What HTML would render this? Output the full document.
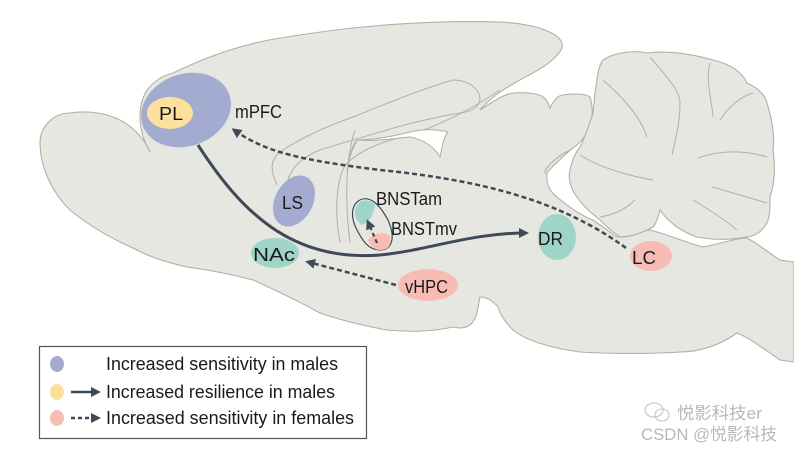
<!DOCTYPE html>
<html><head><meta charset="utf-8"><style>
body{margin:0;background:#fff;width:794px;height:450px;overflow:hidden}
svg{display:block}
text{font-family:"Liberation Sans","Noto Sans CJK SC",sans-serif;fill:#1a1a1a}
</style></head><body>
<svg width="794" height="450" viewBox="0 0 794 450" xmlns="http://www.w3.org/2000/svg">
<defs>
<marker id="ah" markerWidth="10" markerHeight="10" refX="7" refY="5" orient="auto" markerUnits="userSpaceOnUse"><path d="M0,0 L10,5 L0,10 z" fill="#3e4a55"/></marker>
</defs>
<g fill="#e7e7e2" stroke="#b0b0a6" stroke-width="1.1">
<!-- forebrain + brainstem -->
<path d="M150,152 C140,135 135,110 147,90 C155,80 165,75 173,73 C210,55 250,42 287,37 C360,25 430,20 500,22 C540,24 565,35 562,48 C555,62 535,72 520,80 C505,88 490,98 480,110 C495,100 505,94 513,93 C528,92 540,94 543,97 C548,100 549,106 550,108 C554,100 558,95 563,95 C575,93 586,94 590,97 C594,110 592,120 590,127 C585,138 578,145 570,150 C560,160 550,168 547,173 C546,185 550,192 557,197 C570,208 582,216 593,220 C605,228 612,234 617,237 C630,234 640,230 650,230 C670,235 690,244 703,247 C720,244 735,238 747,238 C760,245 772,255 780,260 L794,262 L794,362 L780,360 C765,350 750,338 737,333 C720,345 700,352 680,352 C650,354 610,354 580,352 C550,348 525,340 513,330 C505,322 500,314 498,307 C492,300 486,297 480,297 C478,305 478,318 470,325 C462,330 455,327 453,327 C430,332 410,332 387,330 C365,326 340,320 320,313 C300,302 275,290 253,280 C230,274 210,270 187,267 C165,262 150,257 137,250 C110,238 88,225 70,210 C50,190 40,165 40,143 C40,125 55,113 70,113 C90,110 108,114 120,120 C135,128 145,140 150,152 Z"/>
<!-- cerebellum -->
<path d="M603,60 C615,52 635,50 647,53 C670,50 695,55 713,60 C730,64 742,72 747,83 C758,88 765,95 767,103 C772,120 775,135 773,150 C776,170 774,185 770,197 C770,208 770,216 767,223 C762,232 755,236 747,237 C730,240 712,240 697,237 C682,232 668,222 660,210 C658,218 656,224 653,227 C642,233 630,237 620,237 C612,232 606,226 600,220 C590,212 582,205 577,197 C570,188 568,178 570,170 C572,160 576,152 580,147 C586,135 590,122 593,113 C594,102 595,90 597,80 C598,70 600,64 603,60 Z"/>
</g>
<g fill="none" stroke="#b0b0a6" stroke-width="1">
<path d="M650,57 C665,75 680,90 680,103 C680,125 675,140 672,155"/>
<path d="M603,80 C620,95 640,115 647,137"/>
<path d="M580,155 C600,168 630,176 653,180"/>
<path d="M710,63 C705,80 712,100 713,117"/>
<path d="M720,120 C730,105 742,96 753,93"/>
<path d="M698,158 C720,150 745,150 767,157"/>
<path d="M712,187 C730,192 750,198 767,203"/>
<path d="M693,200 C710,210 725,220 737,230"/>
<path d="M635,200 C625,210 612,215 600,217"/>
<!-- cortex interior -->
<path d="M277,185 C270,170 270,160 280,152 C300,138 330,125 353,117 C390,102 425,88 453,80 C470,80 480,90 480,100 C478,108 470,112 460,113 C430,118 400,126 387,130 C360,138 335,145 320,150 C300,158 290,170 287,183"/>
<path d="M500,90 C470,110 440,125 410,135 C380,142 360,150 345,165 C335,185 335,215 340,243"/>
<path d="M355,130 C345,160 345,205 350,243"/>
<path d="M570,150 C550,160 540,175 547,173"/>
</g>
<path d="M347,170 C350,155 352,145 357,140 C375,142 395,138 410,137 C425,140 435,148 440,157 C442,148 443,138 448,132 C440,130 425,128 410,132 C390,137 370,140 357,140 C352,150 348,160 347,170 Z" fill="#fff" stroke="#b0b0a6" stroke-width="1"/>
<!-- regions -->
<ellipse cx="186" cy="110" rx="46" ry="36" transform="rotate(-20 186 110)" fill="#a3acd0"/>
<ellipse cx="170" cy="113" rx="23" ry="16" fill="#fde09b"/>
<text x="159" y="120" font-size="18" textLength="24" lengthAdjust="spacingAndGlyphs">PL</text>
<text x="235" y="118" font-size="18" textLength="47" lengthAdjust="spacingAndGlyphs">mPFC</text>
<ellipse cx="294" cy="201" rx="19" ry="27" transform="rotate(28 294 201)" fill="#a3acd0"/>
<text x="282" y="209" font-size="18" textLength="21" lengthAdjust="spacingAndGlyphs">LS</text>
<path d="M360,200 C370,195 380,205 388,220 C396,238 392,250 380,250 C368,250 362,240 356,228 C350,215 352,204 360,200 Z" fill="#e7e7e2" stroke="#3e4a55" stroke-width="1.2"/>
<path d="M357,205 C362,198 372,200 375,205 C373,215 370,222 362,225 C355,220 353,212 357,205 Z" fill="#9fd4c8"/>
<path d="M368,240 C372,233 385,231 390,236 C392,246 388,250 380,250 C374,250 370,246 368,240 Z" fill="#f7bdb5"/>
<line x1="377" y1="243" x2="368" y2="222" stroke="#3e4a55" stroke-width="2.2" stroke-dasharray="4,3" marker-end="url(#ah)"/>
<text x="376" y="205" font-size="18" textLength="66" lengthAdjust="spacingAndGlyphs">BNSTam</text>
<text x="391" y="235" font-size="18" textLength="66" lengthAdjust="spacingAndGlyphs">BNSTmv</text>
<ellipse cx="275" cy="253" rx="24" ry="15" fill="#9fd4c8"/>
<text x="253" y="261" font-size="18" textLength="42" lengthAdjust="spacingAndGlyphs">NAc</text>
<ellipse cx="557" cy="237" rx="19" ry="23" fill="#9fd4c8"/>
<text x="538" y="245" font-size="18" textLength="25" lengthAdjust="spacingAndGlyphs">DR</text>
<ellipse cx="651" cy="256" rx="21" ry="15" fill="#f7bdb5"/>
<text x="632" y="264" font-size="18" textLength="24" lengthAdjust="spacingAndGlyphs">LC</text>
<ellipse cx="428" cy="285" rx="30" ry="16" fill="#f7bdb5"/>
<text x="405" y="293" font-size="18" textLength="43" lengthAdjust="spacingAndGlyphs">vHPC</text>
<!-- arrows -->
<path d="M198,145 C240,210 290,262 380,255 C430,250 470,233 526,233" fill="none" stroke="#3e4a55" stroke-width="3" marker-end="url(#ah)"/>
<path d="M626,248 C560,200 480,180 380,170 C300,160 265,152 234,130" fill="none" stroke="#3e4a55" stroke-width="2.5" stroke-dasharray="5,3" marker-end="url(#ah)"/>
<path d="M396,285 L308,262" fill="none" stroke="#3e4a55" stroke-width="2.5" stroke-dasharray="5,3" marker-end="url(#ah)"/>
<!-- legend -->
<rect x="39.5" y="346.5" width="327" height="92" fill="#fff" stroke="#555" stroke-width="1.2"/>
<ellipse cx="57" cy="364" rx="7" ry="8" fill="#a3acd0"/>
<ellipse cx="57" cy="392" rx="7" ry="8" fill="#fde09b"/>
<ellipse cx="57" cy="418" rx="7" ry="8" fill="#f7bdb5"/>
<line x1="71" y1="392" x2="98" y2="392" stroke="#3e4a55" stroke-width="2.5" marker-end="url(#ah)"/>
<line x1="71" y1="418" x2="98" y2="418" stroke="#3e4a55" stroke-width="2.5" stroke-dasharray="4,3" marker-end="url(#ah)"/>
<text x="106" y="370" font-size="18" textLength="232" lengthAdjust="spacingAndGlyphs">Increased sensitivity in males</text>
<text x="106" y="398" font-size="18" textLength="229" lengthAdjust="spacingAndGlyphs">Increased resilience in males</text>
<text x="106" y="424" font-size="18" textLength="248" lengthAdjust="spacingAndGlyphs">Increased sensitivity in females</text>
<!-- watermark -->
<text x="677" y="419" font-size="17" style="fill:#b8b8b8" textLength="85" lengthAdjust="spacingAndGlyphs">悦影科技er</text>
<text x="641" y="440" font-size="17" style="fill:#b8b8b8" textLength="136" lengthAdjust="spacingAndGlyphs">CSDN @悦影科技</text>
<ellipse cx="654" cy="410" rx="9" ry="7" fill="none" stroke="#ccc" stroke-width="1.3"/>
<ellipse cx="662" cy="415" rx="7" ry="6" fill="none" stroke="#ccc" stroke-width="1.3"/>
</svg>
</body></html>
